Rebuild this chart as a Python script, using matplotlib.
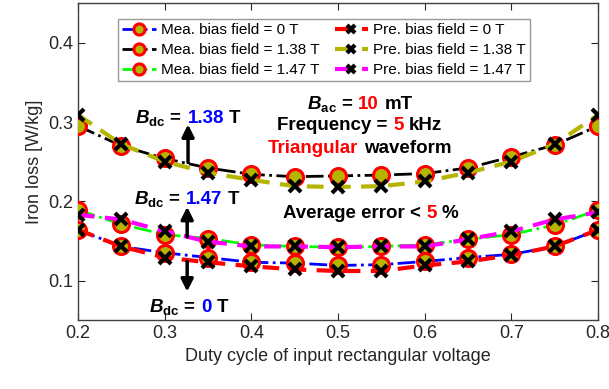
import matplotlib
matplotlib.use("Agg")
import matplotlib.pyplot as plt
from matplotlib.offsetbox import TextArea, HPacker, AnnotationBbox

plt.rcParams['font.family'] = ['Liberation Sans', 'DejaVu Sans']
plt.rcParams['mathtext.fontset'] = 'custom'
plt.rcParams['mathtext.bf'] = 'Liberation Sans:bold'
plt.rcParams['mathtext.bfit'] = 'Liberation Sans:italic:bold'
plt.rcParams['mathtext.it'] = 'Liberation Sans:italic'
plt.rcParams['mathtext.rm'] = 'Liberation Sans'

# duty cycle and iron loss [W/kg]
duty = [0.2, 0.25, 0.3, 0.35, 0.4, 0.45, 0.5, 0.55, 0.6, 0.65, 0.7, 0.75, 0.8]
mea_0 = [0.164, 0.143, 0.135, 0.129, 0.123, 0.122, 0.119, 0.120, 0.124, 0.129, 0.133, 0.143, 0.164]
pre_0 = [0.164, 0.143, 0.129, 0.123, 0.118, 0.114, 0.112, 0.112, 0.119, 0.124, 0.132, 0.143, 0.164]
mea_138 = [0.295, 0.270, 0.254, 0.242, 0.234, 0.231, 0.232, 0.233, 0.235, 0.242, 0.256, 0.271, 0.295]
pre_138 = [0.309, 0.272, 0.250, 0.236, 0.227, 0.219, 0.218, 0.219, 0.225, 0.236, 0.250, 0.272, 0.309]
mea_147 = [0.189, 0.171, 0.158, 0.153, 0.145, 0.143, 0.142, 0.143, 0.145, 0.152, 0.158, 0.170, 0.189]
pre_147 = [0.183, 0.177, 0.162, 0.149, 0.143, 0.143, 0.142, 0.143, 0.143, 0.152, 0.162, 0.177, 0.186]

mea_labels = ['Mea. bias field = 0 T', 'Mea. bias field = 1.38 T', 'Mea. bias field = 1.47 T']
pre_labels = ['Pre. bias field = 0 T', 'Pre. bias field = 1.38 T', 'Pre. bias field = 1.47 T']
mea_colors = ['#0000ff', '#000000', '#00ff00']
pre_colors = ['#ff0000', '#b5b500', '#ff00ff']

fig = plt.figure(figsize=(6.09, 3.89), dpi=100)
ax = fig.add_axes([0.128, 0.177, 0.854, 0.815])

for vals, c, lab in zip([mea_0, mea_138, mea_147], mea_colors, mea_labels):
    ax.plot(duty, vals, linestyle='-.', color=c, lw=2, marker='o', ms=11.5,
            mfc='#b5b500', mec='#ff0000', mew=2.2, label=lab, zorder=3)
for vals, c, lab in zip([pre_0, pre_138, pre_147], pre_colors, pre_labels):
    ax.plot(duty, vals, linestyle=(0, (4, 2.5)), color=c, lw=3, marker='x', ms=8,
            mec='k', mew=3, label=lab, zorder=4)

ax.set_xlim(0.2, 0.8)
ax.set_ylim(0.05, 0.45)
ax.set_xticks([0.2, 0.3, 0.4, 0.5, 0.6, 0.7, 0.8])
ax.set_yticks([0.1, 0.2, 0.3, 0.4])
ax.tick_params(direction='in', top=True, right=True, labelsize=13, colors='#262626', length=5)
for s in ax.spines.values():
    s.set_color('#404040')
    s.set_linewidth(1)
ax.set_xlabel('Duty cycle of input rectangular voltage', fontsize=13, color='#262626')
ax.set_ylabel('Iron loss [W/kg]', fontsize=13, color='#262626')

leg = ax.legend(ncol=2, loc='upper center', bbox_to_anchor=(0.473, 0.975), fontsize=11,
                frameon=True, fancybox=False, edgecolor='#808080', handlelength=2.2,
                handletextpad=0.3, columnspacing=1.0, labelspacing=0.38, borderpad=0.3,
                markerscale=0.7)
leg.get_frame().set_linewidth(1)


def colored(parts, xy, size=13.5):
    boxes = [TextArea(t, textprops=dict(color=c, fontsize=size, fontweight='bold'))
             for t, c in parts]
    pack = HPacker(children=boxes, align='baseline', pad=0, sep=size * 0.28)
    ab = AnnotationBbox(pack, xy, xycoords='data', frameon=False, box_alignment=(0.5, 0.5))
    ax.add_artist(ab)


bdc = r'$\mathbfit{B}_{\mathbf{dc}}$ ='
colored([(bdc, 'k'), ('1.38', '#0000ff'), ('T', 'k')], (0.327, 0.305))
colored([(bdc, 'k'), ('1.47', '#0000ff'), ('T', 'k')], (0.325, 0.203))
colored([(bdc, 'k'), ('0', '#0000ff'), ('T', 'k')], (0.328, 0.067))
colored([(r'$\mathbfit{B}_{\mathbf{ac}}$ =', 'k'), ('10', '#ff0000'), ('mT', 'k')], (0.525, 0.323))
colored([('Frequency =', 'k'), ('5', '#ff0000'), ('kHz', 'k')], (0.525, 0.296))
colored([('Triangular', '#ff0000'), ('waveform', 'k')], (0.525, 0.267))
colored([('Average error <', 'k'), ('5', '#ff0000'), ('%', 'k')], (0.538, 0.185))

arrow = dict(arrowstyle='-|>', lw=2.5, color='k', mutation_scale=18, shrinkA=0, shrinkB=0)
ax.annotate('', xy=(0.327, 0.297), xytext=(0.327, 0.249), arrowprops=arrow, zorder=5)
ax.annotate('', xy=(0.326, 0.193), xytext=(0.326, 0.155), arrowprops=arrow, zorder=5)
ax.annotate('', xy=(0.326, 0.086), xytext=(0.326, 0.124), arrowprops=arrow, zorder=5)

fig.savefig('out.png', dpi=100)
